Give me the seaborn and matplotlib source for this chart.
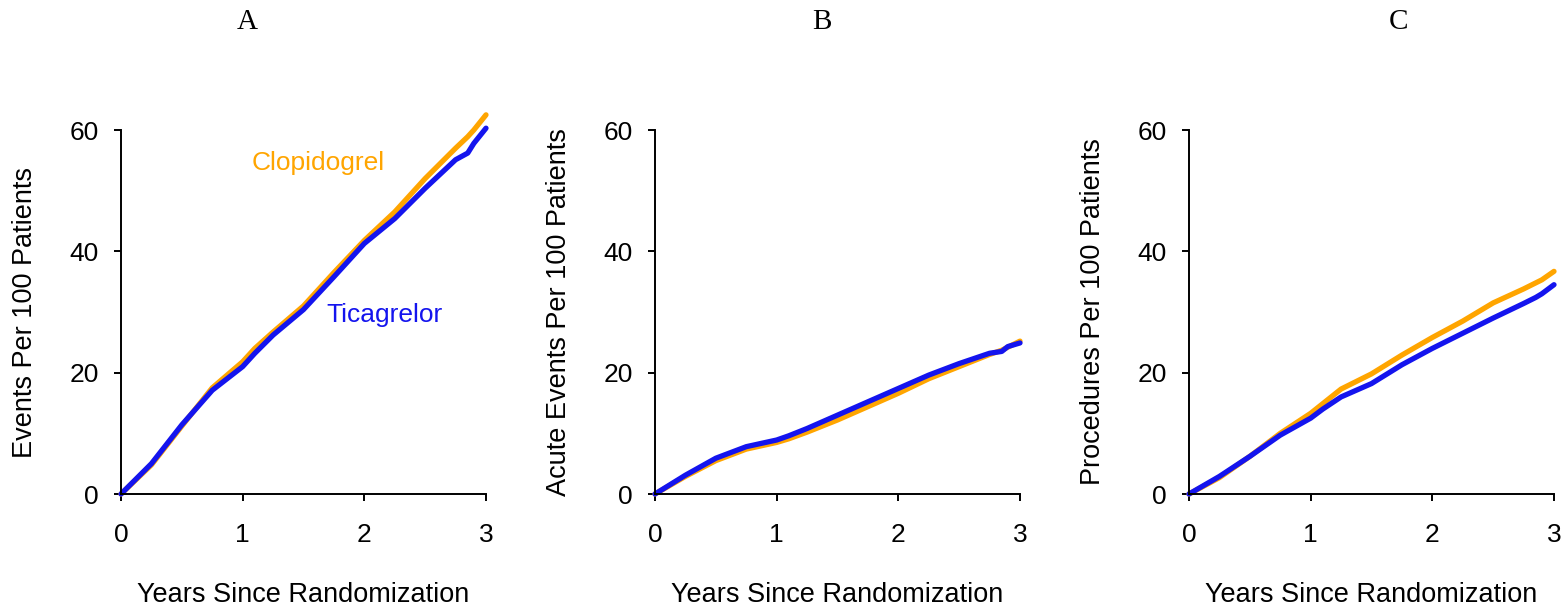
import numpy as np
import pandas as pd
import matplotlib
matplotlib.use("Agg")
import matplotlib.pyplot as plt
import seaborn as sns

# --- data (years since randomization) ---
years = [0, 0.25, 0.5, 0.75, 1, 1.1, 1.25, 1.5, 1.75, 2, 2.25, 2.5, 2.75, 2.85, 2.9, 3]

a_clopidogrel = [0, 4.8, 11.2, 17.5, 21.8, 24.0, 26.7, 31.0, 36.5, 41.8, 46.5, 52.0, 57.0, 58.9, 60.0, 62.5]
a_ticagrelor = [0, 5.0, 11.4, 17.1, 21.0, 23.2, 26.2, 30.4, 35.8, 41.3, 45.4, 50.4, 55.1, 56.2, 57.8, 60.3]

b_clopidogrel = [0, 2.9, 5.5, 7.4, 8.5, 9.1, 10.2, 12.2, 14.4, 16.6, 19.0, 21.0, 23.0, 23.7, 24.2, 25.2]
b_ticagrelor = [0, 3.1, 5.9, 7.8, 8.9, 9.6, 10.8, 13.0, 15.2, 17.4, 19.6, 21.5, 23.2, 23.5, 24.3, 24.9]

c_clopidogrel = [0, 2.7, 6.2, 10.0, 13.3, 14.9, 17.3, 19.8, 22.9, 25.8, 28.5, 31.5, 33.8, 34.8, 35.3, 36.7]
c_ticagrelor = [0, 2.9, 6.2, 9.7, 12.5, 14.0, 16.0, 18.2, 21.3, 24.0, 26.5, 29.0, 31.4, 32.4, 33.0, 34.5]

panel_titles = ["A", "B", "C"]
y_labels = ["Events Per 100 Patients", "Acute Events Per 100 Patients",
            "Procedures Per 100 Patients"]
x_label = "Years Since Randomization"
drugs = ["Clopidogrel", "Ticagrelor"]
colors = {"Clopidogrel": "#FFA500", "Ticagrelor": "#1414EE"}

panels = [(a_clopidogrel, a_ticagrelor), (b_clopidogrel, b_ticagrelor),
          (c_clopidogrel, c_ticagrelor)]

sns.set_style("ticks")
plt.rcParams["font.family"] = ["Liberation Sans", "DejaVu Sans"]
plt.rcParams["text.color"] = "black"
plt.rcParams["axes.labelcolor"] = "black"
plt.rcParams["xtick.color"] = "black"
plt.rcParams["ytick.color"] = "black"

fig = plt.figure(figsize=(15.66, 6.09), dpi=100)
lefts = [121 / 1566, 655 / 1566, 1189 / 1566]
title_x = [247 / 1566, 822 / 1566, 1398 / 1566]

for i, (clop, tica) in enumerate(panels):
    ax = fig.add_axes([lefts[i], 115 / 609, 365 / 1566, 364 / 609])
    df = pd.DataFrame({
        "year": years * 2,
        "rate": clop + tica,
        "drug": ["Clopidogrel"] * len(years) + ["Ticagrelor"] * len(years),
    })
    sns.lineplot(data=df, x="year", y="rate", hue="drug", hue_order=drugs,
                 palette=colors, linewidth=3.8, legend=False, ax=ax,
                 clip_on=False)
    ax.set_xlim(0, 3)
    ax.set_ylim(0, 60)
    ax.set_xticks([0, 1, 2, 3])
    ax.set_yticks([0, 20, 40, 60])
    sns.despine(ax=ax)
    for s in ["left", "bottom"]:
        ax.spines[s].set_linewidth(1.4)
        ax.spines[s].set_color("black")
    ax.tick_params(axis="x", length=5, width=1.4, pad=16, labelsize=19)
    ax.tick_params(axis="y", length=5, width=1.4, pad=11, labelsize=19)
    ax.set_xlabel(x_label, fontsize=19.5)
    ax.set_ylabel(y_labels[i], fontsize=19.5)
    ax.xaxis.set_label_coords(0.5, -0.243)
    ax.yaxis.set_label_coords(-0.228, 0.5)
    fig.text(title_x[i], 0.964, panel_titles[i], ha="center", va="center",
             fontsize=21, family=["Liberation Serif", "DejaVu Serif"])
    if i == 0:
        ax.text(1.07, 54.5, "Clopidogrel", color=colors["Clopidogrel"],
                fontsize=19, ha="left", va="center")
        ax.text(1.69, 29.5, "Ticagrelor", color=colors["Ticagrelor"],
                fontsize=19, ha="left", va="center")

fig.savefig("out.png", dpi=100)
